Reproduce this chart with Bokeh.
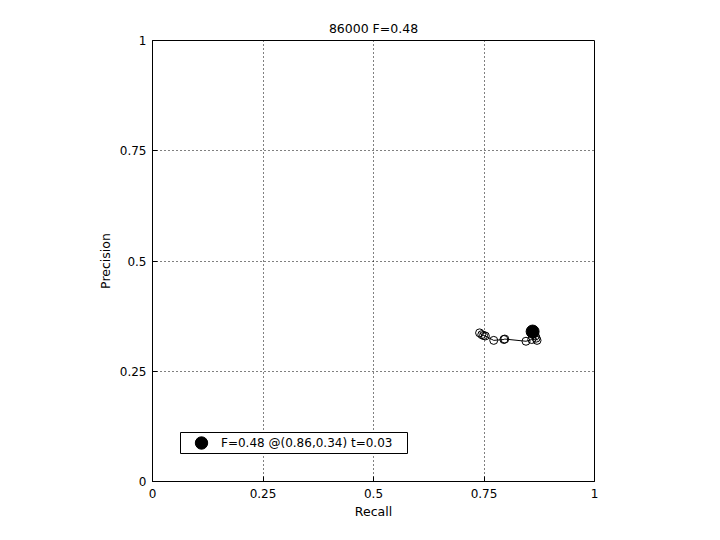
from bokeh.plotting import figure
from bokeh.models import FixedTicker, Legend, LegendItem, Range1d, BoxAnnotation
from bokeh.embed import file_html
from bokeh.resources import INLINE

title_text = "86000 F=0.48"
x_label = "Recall"
y_label = "Precision"
ticks = [0, 0.25, 0.5, 0.75, 1]
tick_labels = {0: "0", 0.25: "0.25", 0.5: "0.5", 0.75: "0.75", 1: "1"}

recall = [0.740, 0.745, 0.749, 0.753, 0.772, 0.795, 0.797, 0.845, 0.858, 0.866, 0.868, 0.870]
precision = [0.337, 0.333, 0.331, 0.330, 0.320, 0.322, 0.323, 0.318, 0.322, 0.330, 0.325, 0.320]
best_recall = [0.86]
best_precision = [0.34]
legend_label = "F=0.48 @(0.86,0.34) t=0.03"

FONT = "DejaVu Sans"

p = figure(width=704, height=524, output_backend="svg", toolbar_location=None,
           frame_width=442, frame_height=441,
           x_range=Range1d(0, 1), y_range=Range1d(0, 1),
           min_border_left=152, min_border_right=110, min_border_top=40, min_border_bottom=43,
           x_axis_label=x_label, y_axis_label=y_label)
p.title.text = title_text
p.title.align = "center"
p.title.text_font = FONT
p.title.text_font_size = "12.5px"
p.title.text_font_style = "normal"
p.title.text_color = "black"
p.title.standoff = 9

p.outline_line_color = "black"
p.outline_line_width = 1
p.outline_line_alpha = 1

for ax in [p.xaxis[0], p.yaxis[0]]:
    ax.ticker = FixedTicker(ticks=ticks)
    ax.major_label_overrides = tick_labels
    ax.major_tick_in = 5
    ax.major_tick_out = 0
    ax.minor_tick_in = 0
    ax.minor_tick_out = 0
    ax.axis_line_color = "black"
    ax.major_tick_line_color = "black"
    ax.major_label_text_font = FONT
    ax.major_label_text_font_size = "12px"
    ax.major_label_text_color = "black"
    ax.axis_label_text_font = FONT
    ax.axis_label_text_font_size = "12.5px"
    ax.axis_label_text_font_style = "normal"
    ax.axis_label_text_color = "black"
p.xaxis[0].major_label_standoff = 7
p.xaxis[0].axis_label_standoff = 3
p.yaxis[0].major_label_standoff = 6
p.yaxis[0].axis_label_standoff = 4

for g in [p.xgrid[0], p.ygrid[0]]:
    g.ticker = FixedTicker(ticks=ticks)
    g.grid_line_color = "black"
    g.grid_line_dash = "1 3"
    g.grid_line_width = 1
    g.grid_line_alpha = 1

p.line(recall, precision, line_color="black", line_width=1)
p.scatter(recall, precision, marker="circle", size=8, fill_color=None, line_color="black", line_width=1)
best = p.scatter(best_recall, best_precision, marker="circle", size=13, fill_color="black", line_color="black")

# legend box (drawn behind a transparent legend so the marker can be large)
box = BoxAnnotation(left=28, right=255, bottom=28, top=49,
                    left_units="screen", right_units="screen", bottom_units="screen", top_units="screen",
                    fill_color="white", fill_alpha=1, line_color="black", line_width=1, line_alpha=1)
p.add_layout(box)

legend = Legend(items=[LegendItem(label=legend_label, renderers=[best])],
                location=(33, 23), border_line_alpha=0, background_fill_alpha=0,
                label_text_font=FONT, label_text_font_size="12px", label_text_color="black",
                glyph_width=32, glyph_height=31, padding=0, margin=0, spacing=0,
                label_standoff=4, border_radius=0)
p.add_layout(legend, "center")

open("out.html", "w").write(file_html(p, INLINE))
